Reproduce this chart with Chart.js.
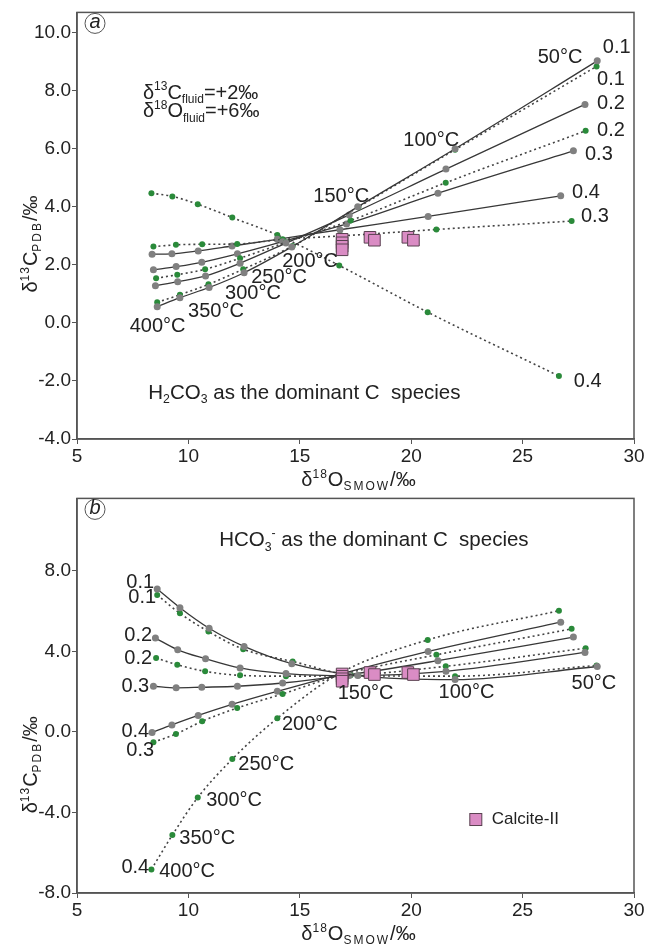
<!DOCTYPE html>
<html>
<head>
<meta charset="utf-8">
<script src="https://cdn.jsdelivr.net/npm/chart.js@4.4.1/dist/chart.umd.min.js"></script>
<style>
  body { margin: 0; background: #fff; }
  #wa { position: absolute; left: 0; top: 0; width: 649px; height: 494px; }
  #wb { position: absolute; left: 0; top: 486px; width: 649px; height: 462px; }
</style>
</head>
<body>
<div id="wa"><canvas id="ca"></canvas></div>
<div id="wb"><canvas id="cb"></canvas></div>
<script>
// temperatures of the model points, left to right
const temps = [400, 350, 300, 250, 200, 150, 100, 50];

// δ18O of calcite (same in both panels)
const xGrey01  = [8.6, 9.62, 10.93, 12.5, 14.64, 17.6, 21.97, 28.35];
const xGreen01 = [8.6, 9.62, 10.9, 12.46, 14.68, 17.63, 21.97, 28.32];
const xGrey02  = [8.52, 9.52, 10.77, 12.32, 14.38, 17.22, 21.56, 27.8];
const xGreen02 = [8.55, 9.5, 10.75, 12.32, 14.38, 17.28, 21.55, 27.83];
const xGrey03  = [8.43, 9.45, 10.6, 12.2, 14.23, 17.1, 21.2, 27.28];
const xGreen03 = [8.43, 9.44, 10.62, 12.19, 14.23, 16.9, 21.13, 27.2];
const xGrey04  = [8.37, 9.26, 10.44, 11.96, 13.99, 16.8, 20.76, 26.71];
const xGreen04 = [8.34, 9.28, 10.42, 11.97, 13.99, 16.77, 20.74, 26.63];

// panel a: δ13C, H2CO3 dominant
const yGrey01A  = [0.56, 0.87, 1.22, 1.73, 2.62, 4.0, 6.0, 9.03];
const yGreen01A = [0.71, 0.97, 1.33, 1.85, 2.65, 3.99, 5.97, 8.84];
const yGrey02A  = [1.28, 1.42, 1.62, 2.06, 2.75, 3.72, 5.3, 7.53];
const yGreen02A = [1.54, 1.66, 1.85, 2.23, 2.78, 3.53, 4.83, 6.62];
const yGrey03A  = [1.83, 1.94, 2.09, 2.38, 2.8, 3.41, 4.47, 5.93];
const yGreen03A = [2.63, 2.69, 2.71, 2.72, 2.88, 3.0, 3.22, 3.51];
const yGrey04A  = [2.37, 2.38, 2.48, 2.65, 2.88, 3.21, 3.67, 4.38];
const yGreen04A = [4.47, 4.36, 4.09, 3.63, 3.03, 1.98, 0.37, -1.83];

// panel b: δ13C, HCO3- dominant
const yGrey01B  = [7.1, 6.17, 5.15, 4.25, 3.39, 2.8, 2.6, 3.25];
const yGreen01B = [6.8, 5.89, 4.99, 4.11, 3.5, 2.8, 2.77, 3.3];
const yGrey02B  = [4.66, 4.08, 3.64, 3.18, 2.9, 2.8, 3.01, 3.95];
const yGreen02B = [3.67, 3.34, 3.01, 2.81, 2.77, 2.82, 3.26, 4.16];
const yGrey03B  = [2.27, 2.19, 2.22, 2.27, 2.43, 2.82, 3.54, 4.71];
const yGreen03B = [-0.51, -0.1, 0.53, 1.19, 1.89, 2.85, 3.83, 5.12];
const yGrey04B  = [-0.03, 0.35, 0.82, 1.37, 2.02, 2.87, 4.0, 5.45];
const yGreen04B = [-6.83, -5.12, -3.26, -1.35, 0.68, 2.9, 4.57, 6.02];

// measured samples
const calciteX = [16.9, 16.9, 16.9, 16.9, 18.15, 18.35, 19.85, 20.1];
const calciteY = [2.88, 2.76, 2.64, 2.52, 2.95, 2.85, 2.95, 2.85];

// tick labels
const xTicks  = [5, 10, 15, 20, 25, 30];
const yTicksA = [-4, -2, 0, 2, 4, 6, 8, 10];
const yTicksB = [-8, -4, 0, 4, 8];

const FONT = '"Liberation Sans", Arial, sans-serif';
const INK = '#222';

function pts(xs, ys) {
    return xs.map(function (x, i) { return { x: x, y: ys[i] }; });
}

function greyLine(xs, ys) {
    return {
        data: pts(xs, ys), showLine: true, cubicInterpolationMode: 'monotone',
        borderColor: '#383838', borderWidth: 1.3,
        pointRadius: 3.5, pointBackgroundColor: '#808080', pointBorderWidth: 0
    };
}

function greenLine(xs, ys) {
    return {
        data: pts(xs, ys), showLine: true, cubicInterpolationMode: 'monotone',
        borderColor: '#444', borderWidth: 1.6, borderDash: [2, 3],
        pointRadius: 3, pointBackgroundColor: '#2a8a3a', pointBorderWidth: 0
    };
}

function calcite() {
    return {
        data: pts(calciteX, calciteY), pointStyle: 'rect', pointRadius: 8.2,
        pointBackgroundColor: '#da8cc4', pointBorderColor: '#5a4050', pointBorderWidth: 1
    };
}

// text with super/subscripts, parts = [[text, 'n'|'sup'|'sub', spacing], ...]
function rich(ctx, parts, x, y, size, align) {
    const small = size * 0.6;
    function partWidth(p) {
        ctx.font = (p[1] === 'n' ? size : small) + 'px ' + FONT;
        const sp = p[2] || 0;
        return ctx.measureText(p[0]).width + sp * p[0].length;
    }
    let w = 0;
    parts.forEach(function (p) { w += partWidth(p); });
    let cx = align === 'center' ? x - w / 2 : (align === 'right' ? x - w : x);
    ctx.textAlign = 'left';
    ctx.textBaseline = 'alphabetic';
    parts.forEach(function (p) {
        const sp = p[2] || 0;
        ctx.font = (p[1] === 'n' ? size : small) + 'px ' + FONT;
        const dy = p[1] === 'sup' ? -size * 0.42 : (p[1] === 'sub' ? size * 0.22 : 0);
        for (const ch of p[0]) {
            ctx.fillText(ch, cx, y + dy);
            cx += ctx.measureText(ch).width + sp;
        }
    });
}

const yTitle = [['δ', 'n'], ['13', 'sup', 1], ['C', 'n'], ['PDB', 'sub', 2], ['/‰', 'n']];
const xTitle = [['δ', 'n'], ['18', 'sup', 1], ['O', 'n'], ['SMOW', 'sub', 2], ['/‰', 'n']];

// label placements in data units
const labelsA = {
    letter: 'a',
    yTitleAt: 2.72,
    temps: [['50°C', 26.68, 9.15, 'center'], ['100°C', 20.9, 6.3, 'center'], ['150°C', 16.86, 4.34, 'center'],
            ['200°C', 15.46, 2.1, 'center'], ['250°C', 14.07, 1.55, 'center'], ['300°C', 12.9, 1.0, 'center'],
            ['350°C', 11.24, 0.38, 'center'], ['400°C', 8.62, -0.14, 'center'],
            ['0.1', 28.6, 9.48, 'left'], ['0.1', 28.34, 8.38, 'left'], ['0.2', 28.34, 7.55, 'left'],
            ['0.2', 28.34, 6.62, 'left'], ['0.3', 27.8, 5.8, 'left'], ['0.4', 27.22, 4.48, 'left'],
            ['0.3', 27.62, 3.66, 'left'], ['0.4', 27.3, -2.02, 'left']],
    rich: [
        [[['δ', 'n'], ['13', 'sup'], ['C', 'n'], ['fluid', 'sub'], ['=+2‰', 'n']], 7.96, 7.97, 20],
        [[['δ', 'n'], ['18', 'sup'], ['O', 'n'], ['fluid', 'sub'], ['=+6‰', 'n']], 7.96, 7.33, 20],
        [[['H', 'n'], ['2', 'sub'], ['CO', 'n'], ['3', 'sub'], [' as the dominant C  species', 'n']], 8.2, -2.37, 20.5]
    ]
};

const labelsB = {
    letter: 'b',
    yTitleAt: -1.63,
    temps: [['400°C', 8.69, -6.95, 'left'], ['350°C', 9.59, -5.27, 'left'], ['300°C', 10.8, -3.41, 'left'],
            ['250°C', 12.24, -1.63, 'left'], ['200°C', 14.2, 0.38, 'left'], ['150°C', 16.7, 1.9, 'left'],
            ['100°C', 21.23, 1.94, 'left'], ['50°C', 27.2, 2.39, 'left'],
            ['0.1', 8.46, 7.4, 'right'], ['0.1', 8.55, 6.67, 'right'], ['0.2', 8.37, 4.78, 'right'],
            ['0.2', 8.37, 3.67, 'right'], ['0.3', 8.24, 2.27, 'right'], ['0.4', 8.24, 0, 'right'],
            ['0.3', 8.46, -0.94, 'right'], ['0.4', 8.24, -6.75, 'right']],
    rich: [
        [[['HCO', 'n'], ['3', 'sub'], ['-', 'sup'], [' as the dominant C  species', 'n']], 11.38, 9.58, 20.5]
    ],
    legend: ['Calcite-II', 22.9, -4.35]
};

function overlay(labels) {
    return {
        id: 'overlay',
        afterDraw: function (chart) {
            const ctx = chart.ctx, a = chart.chartArea;
            const sx = chart.scales.x, sy = chart.scales.y;
            ctx.save();
            // frame
            ctx.strokeStyle = '#555';
            ctx.lineWidth = 1.5;
            ctx.strokeRect(a.left, a.top, a.right - a.left, a.bottom - a.top);

            // panel letter
            ctx.lineWidth = 1;
            ctx.beginPath();
            ctx.arc(a.left + 18, a.top + 11, 10, 0, Math.PI * 2);
            ctx.stroke();
            ctx.fillStyle = INK;
            ctx.font = 'italic 20px ' + FONT;
            ctx.textAlign = 'center';
            ctx.textBaseline = 'middle';
            ctx.fillText(labels.letter, a.left + 18, a.top + 10);

            // temperatures and fractions
            ctx.font = '20px ' + FONT;
            labels.temps.forEach(function (t) {
                ctx.textAlign = t[3];
                ctx.fillText(t[0], sx.getPixelForValue(t[1]), sy.getPixelForValue(t[2]));
            });

            labels.rich.forEach(function (r) {
                rich(ctx, r[0], sx.getPixelForValue(r[1]), sy.getPixelForValue(r[2]) + 7, r[3], 'left');
            });

            if (labels.legend) {
                const lx = sx.getPixelForValue(labels.legend[1]);
                const ly = sy.getPixelForValue(labels.legend[2]);
                ctx.fillStyle = '#da8cc4';
                ctx.fillRect(lx - 6, ly - 6, 12, 12);
                ctx.strokeStyle = '#5a4050';
                ctx.strokeRect(lx - 6, ly - 6, 12, 12);
                ctx.fillStyle = INK;
                ctx.font = '17px ' + FONT;
                ctx.textAlign = 'left';
                ctx.textBaseline = 'middle';
                ctx.fillText(labels.legend[0], lx + 16, ly);
            }

            // axis titles
            ctx.fillStyle = INK;
            rich(ctx, xTitle, (a.left + a.right) / 2 + 3, a.bottom + 47, 20, 'center');
            ctx.translate(37, sy.getPixelForValue(labels.yTitleAt));
            ctx.rotate(-Math.PI / 2);
            rich(ctx, yTitle, 0, 0, 20, 'center');
            ctx.restore();
        }
    };
}

function makeChart(id, datasets, yMin, yMax, yTicks, pad, labels) {
    return new Chart(document.getElementById(id), {
        type: 'scatter',
        data: { datasets: datasets },
        options: {
            responsive: true,
            maintainAspectRatio: false,
            animation: false,
            layout: { padding: pad },
            plugins: { legend: { display: false }, tooltip: { enabled: false } },
            scales: {
                x: {
                    min: 5, max: 30,
                    afterBuildTicks: function (s) { s.ticks = xTicks.map(function (v) { return { value: v }; }); },
                    afterFit: function (s) { s.height = 30; },
                    ticks: { color: INK, font: { family: FONT, size: 19 }, padding: 1 },
                    grid: { drawOnChartArea: false, tickLength: 5, color: '#555' },
                    border: { color: '#555', width: 1.5 }
                },
                y: {
                    min: yMin, max: yMax,
                    afterBuildTicks: function (s) { s.ticks = yTicks.map(function (v) { return { value: v }; }); },
                    afterFit: function (s) { s.width = 77; },
                    ticks: {
                        color: INK, font: { family: FONT, size: 19 }, padding: 1,
                        callback: function (v) { return v.toFixed(1); }
                    },
                    grid: { drawOnChartArea: false, tickLength: 5, color: '#555' },
                    border: { color: '#555', width: 1.5 }
                }
            }
        },
        plugins: [overlay(labels)]
    });
}

makeChart('ca', [
    calcite(),
    greyLine(xGrey01, yGrey01A), greenLine(xGreen01, yGreen01A),
    greyLine(xGrey02, yGrey02A), greenLine(xGreen02, yGreen02A),
    greyLine(xGrey03, yGrey03A), greenLine(xGreen03, yGreen03A),
    greyLine(xGrey04, yGrey04A), greenLine(xGreen04, yGreen04A)
], -4, 10.7, yTicksA, { left: 0, right: 15, top: 12, bottom: 25 }, labelsA);

makeChart('cb', [
    calcite(),
    greyLine(xGrey01, yGrey01B), greenLine(xGreen01, yGreen01B),
    greyLine(xGrey02, yGrey02B), greenLine(xGreen02, yGreen02B),
    greyLine(xGrey03, yGrey03B), greenLine(xGreen03, yGreen03B),
    greyLine(xGrey04, yGrey04B), greenLine(xGreen04, yGreen04B)
], -8, 11.6, yTicksB, { left: 0, right: 15, top: 5, bottom: 25 }, labelsB);
</script>
</body>
</html>
